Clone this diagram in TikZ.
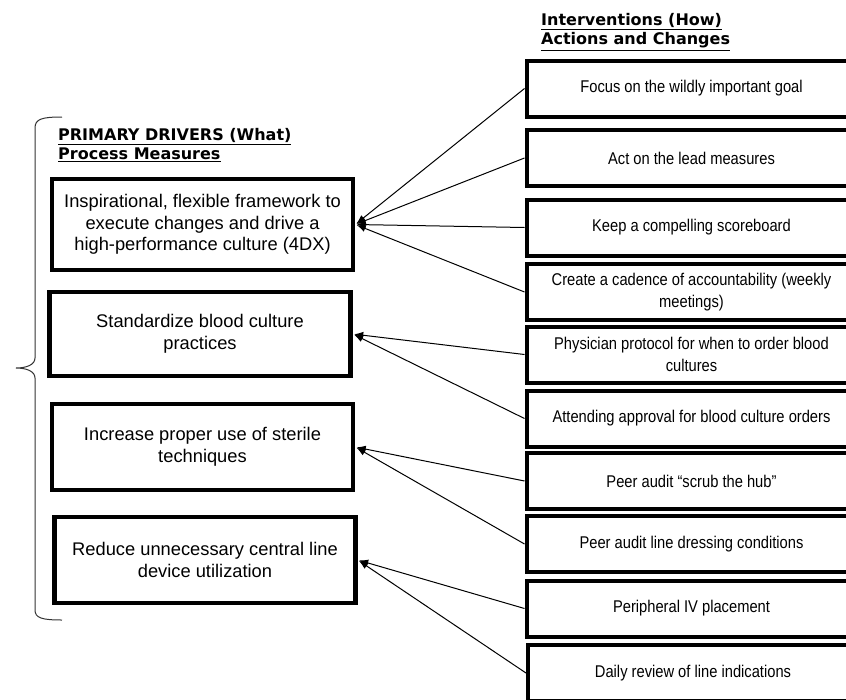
\documentclass[tikz,border=0pt]{standalone}
\usepackage{fontspec}
\setmainfont{Liberation Sans}
\newfontfamily\narrowfont[FakeStretch=0.865]{Liberation Sans}
\newfontfamily\headfont{DejaVu Sans}
\usetikzlibrary{arrows.meta, positioning, calc}

\begin{document}
\begin{tikzpicture}[x=1pt, y=-1pt,
    drvbox/.style={draw, line width=4.5pt, minimum width=301pt, minimum height=86pt,
        align=center, inner sep=2pt, font=\fontsize{18.3}{21.5}\selectfont},
    actbox/.style={draw, line width=4pt, minimum width=330pt, minimum height=56pt,
        align=center, inner sep=2pt, font=\narrowfont\fontsize{17}{22}\selectfont},
    headtxt/.style={anchor=west, align=left, inner sep=0pt,
        font=\headfont\bfseries\fontsize{16}{19}\selectfont},
    conn/.style={->, >={Latex[length=9pt,width=7pt]}, line width=1pt, shorten >=1.5pt}]
    \useasboundingbox (0,0) rectangle (846,699);

    % Titoli
    \node[headtxt] (hdrv) at (58,145) {\underline{PRIMARY DRIVERS (What)}\\\underline{Process Measures}};
    \node[headtxt] (hact) at (541,32) {\underline{Interventions (How)}\\\underline{Actions and Changes}};

    % Parentesi graffa a sinistra
    \draw[line width=1pt, black!80] (62,117) .. controls (42,117) and (35,119) .. (35,128)
        -- (35,358) .. controls (35,365) and (26,368) .. (16,368)
        .. controls (26,368) and (35,371) .. (35,378)
        -- (35,610) .. controls (35,618) and (42,620) .. (62,620);

    % Driver primari (sinistra)
    \node[drvbox, minimum height=91pt] (drv1) at (202.5,224.5)
        {Inspirational, flexible framework to\\execute changes and drive a\\high-performance culture (4DX)};
    \node[drvbox, minimum height=84pt] (drv2) at (200,334) {Standardize blood culture\\practices};
    \node[drvbox] (drv3) at (202.5,447) {Increase proper use of sterile\\techniques};
    \node[drvbox] (drv4) at (205,560) {Reduce unnecessary central line\\device utilization};

    % Interventi (destra)
    \node[actbox] (act1) at (691.5,88.5) {Focus on the wildly important goal};
    \node[actbox] (act2) at (691.5,158) {Act on the lead measures};
    \node[actbox] (act3) at (691.5,227.5) {Keep a compelling scoreboard};
    \node[actbox] (act4) at (691.5,292) {Create a cadence of accountability (weekly\\meetings)};
    \node[actbox] (act5) at (691.5,354.5) {Physician protocol for when to order blood\\cultures};
    \node[actbox] (act6) at (691.5,418.5) {Attending approval for blood culture orders};
    \node[actbox] (act7) at (691.5,481) {Peer audit \textquotedblleft scrub the hub\textquotedblright};
    \node[actbox] (act8) at (691.5,544) {Peer audit line dressing conditions};
    \node[actbox] (act9) at (691.5,608.5) {Peripheral IV placement};
    \node[actbox] (act10) at (693,673) {Daily review of line indications};

    % Frecce dagli interventi ai driver
    \foreach \a/\d in {1/1, 2/1, 3/1, 4/1, 5/2, 6/2, 7/3, 8/3, 9/4, 10/4} {
        \draw[conn] (act\a.west) -- (drv\d.east);
    }

\end{tikzpicture}
\end{document}
